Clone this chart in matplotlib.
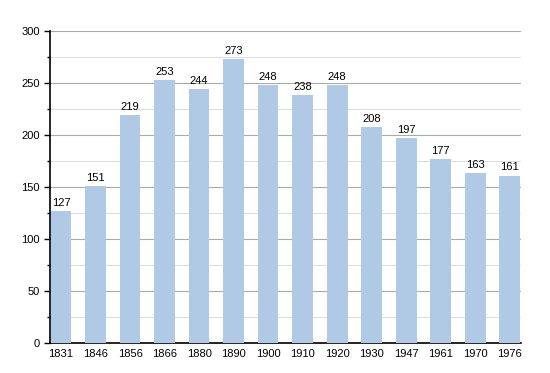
import numpy as np
import matplotlib.pyplot as plt
from matplotlib.ticker import MultipleLocator

# census years and population
years = ['1831', '1846', '1856', '1866', '1880', '1890', '1900',
         '1910', '1920', '1930', '1947', '1961', '1970', '1976']
population = [127, 151, 219, 253, 244, 273, 248, 238, 248, 208, 197, 177, 163, 161]

plt.rcParams['font.family'] = ['Liberation Sans', 'DejaVu Sans']

fig = plt.figure(figsize=(5.5, 3.73), dpi=100)
ax = fig.add_axes([0.0909, 0.0804, 0.856, 0.8365])

x = np.arange(len(years))
ax.bar(x, population, width=0.6, color='#b0c9e4', zorder=3)

for xi, v in zip(x, population):
    ax.text(xi, v + 3, str(v), ha='center', va='bottom', fontsize=8, zorder=4)

ax.set_xlim(-0.32, len(years) - 0.68)
ax.set_ylim(0, 300)
ax.set_xticks(x)
ax.set_xticklabels(years, fontsize=8)
ax.yaxis.set_major_locator(MultipleLocator(50))
ax.yaxis.set_minor_locator(MultipleLocator(25))
ax.tick_params(axis='y', labelsize=8, length=4, width=1)
ax.tick_params(axis='y', which='minor', length=2, width=1)
ax.tick_params(axis='x', length=0, pad=4)

ax.grid(axis='y', which='major', color='#aaaaaa', linewidth=0.8, zorder=0)
ax.grid(axis='y', which='minor', color='#dddddd', linewidth=0.8, zorder=0)

for s in ['top', 'right']:
    ax.spines[s].set_visible(False)
ax.spines['left'].set_linewidth(1.2)
ax.spines['bottom'].set_linewidth(1.2)

plt.savefig('out.png', dpi=100)
